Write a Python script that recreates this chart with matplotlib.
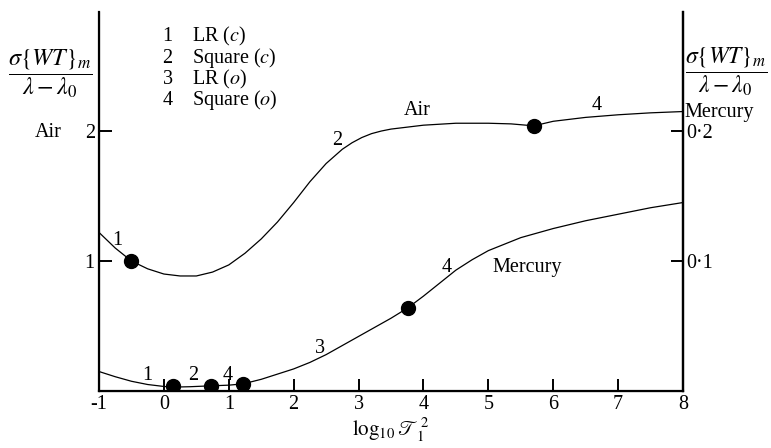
import matplotlib
matplotlib.use("Agg")
import matplotlib.pyplot as plt

plt.rcParams['font.family'] = ['Liberation Serif', 'DejaVu Serif']
plt.rcParams['mathtext.fontset'] = 'stix'

# Air curve (left axis)
air_x = [-1, -0.75, -0.5, -0.25, 0, 0.25, 0.5, 0.75, 1.0, 1.25, 1.5, 1.75, 2.0,
         2.25, 2.5, 2.75, 2.9, 3.05, 3.2, 3.35, 3.5, 3.75, 4.0, 4.5, 5.0, 5.35, 5.7,
         6.0, 6.5, 7.0, 7.5, 8.0]
air_y = [1.22, 1.10, 1.00, 0.94, 0.90, 0.885, 0.885, 0.915, 0.97, 1.06, 1.17, 1.30, 1.45,
         1.61, 1.75, 1.86, 1.91, 1.95, 1.98, 2.00, 2.015, 2.03, 2.045, 2.06, 2.06, 2.055, 2.04,
         2.075, 2.105, 2.125, 2.14, 2.15]
air_pts_x = [-0.5, 5.7]
air_pts_y = [1.00, 2.04]

# Mercury curve (plotted on left scale; right axis = left / 10)
hg_x = [-1, -0.75, -0.5, -0.25, 0, 0.14, 0.4, 0.73, 1.0, 1.22, 1.5, 1.75, 2.0, 2.25,
        2.5, 2.75, 3.0, 3.25, 3.5, 3.76, 4.0, 4.25, 4.5, 4.75, 5.0, 5.5, 6.0, 6.5,
        7.0, 7.5, 8.0]
hg_y = [0.15, 0.11, 0.075, 0.05, 0.035, 0.03, 0.033, 0.04, 0.045, 0.055, 0.09, 0.13,
        0.17, 0.22, 0.28, 0.35, 0.42, 0.49, 0.56, 0.64, 0.73, 0.83, 0.93, 1.01, 1.08,
        1.18, 1.25, 1.31, 1.36, 1.41, 1.45]
hg_pts_x = [0.14, 0.73, 1.22, 3.76]
hg_pts_y = [0.04, 0.04, 0.055, 0.64]

x_ticks = [-1, 0, 1, 2, 3, 4, 5, 6, 7, 8]
left_ticks = [1, 2]
right_ticks = [0.1, 0.2]
right_labels = ['0·1', '0·2']

legend_items = ['1    LR ($c$)', '2    Square ($c$)', '3    LR ($o$)', '4    Square ($o$)']

fig = plt.figure(figsize=(7.71, 4.48), dpi=100)
ax = fig.add_axes([0.1284, 0.1272, 0.7575, 0.8458])
ax.set_xlim(-1, 8)
ax.set_ylim(0, 2.915)

ax.plot(air_x, air_y, color='black', lw=0.9)
ax.plot(hg_x, hg_y, color='black', lw=0.9)
ax.plot(air_pts_x, air_pts_y, 'o', color='black', ms=10)
ax.plot(hg_pts_x, hg_pts_y, 'o', color='black', ms=10)

for s in ['left', 'bottom', 'right']:
    ax.spines[s].set_linewidth(1.6)
ax.spines['top'].set_visible(False)

ax.set_xticks(x_ticks)
ax.set_xticklabels([str(t) for t in x_ticks], fontsize=14.5)
ax.set_yticks(left_ticks)
ax.set_yticklabels([str(t) for t in left_ticks], fontsize=14.5)
ax.tick_params(axis='both', direction='in', length=9, width=1.4, pad=3)

ax2 = ax.twinx()
ax2.set_ylim(0, 0.2915)
ax2.spines['top'].set_visible(False)
ax2.spines['right'].set_linewidth(1.6)
ax2.set_yticks(right_ticks)
ax2.set_yticklabels(right_labels, fontsize=14.5)
ax2.tick_params(axis='y', direction='in', length=9, width=1.4, pad=2)

ax.set_xlabel(r'$\log_{10}\mathscr{T}_1^{\,2}$', fontsize=15, labelpad=2)

frac = r'$\dfrac{\sigma\{WT\}_m}{\lambda-\lambda_0}$'
fig.text(0.066, 0.835, frac, fontsize=17.5, ha='center', va='center')
fig.text(0.942, 0.84, frac, fontsize=17, ha='center', va='center')
fig.text(0.062, 0.705, 'Air', fontsize=14.5, ha='center', va='center')
fig.text(0.888, 0.75, 'Mercury', fontsize=14.5, ha='left', va='center')

for i, t in enumerate(legend_items):
    ax.text(-0.03, 2.73 - i * 0.165, t, fontsize=14.5, ha='left', va='center')

# curve annotations
ax.text(-0.72, 1.16, '1', fontsize=14.5, ha='center', va='center')
ax.text(2.67, 1.93, '2', fontsize=14.5, ha='center', va='center')
ax.text(3.9, 2.16, 'Air', fontsize=14.5, ha='center', va='center')
ax.text(6.67, 2.2, '4', fontsize=14.5, ha='center', va='center')
ax.text(4.36, 0.95, '4', fontsize=14.5, ha='center', va='center')
ax.text(5.6, 0.95, 'Mercury', fontsize=14.5, ha='center', va='center')
ax.text(2.4, 0.33, '3', fontsize=14.5, ha='center', va='center')
ax.text(-0.26, 0.12, '1', fontsize=14.5, ha='center', va='center')
ax.text(0.45, 0.12, '2', fontsize=14.5, ha='center', va='center')
ax.text(0.99, 0.12, '4', fontsize=14.5, ha='center', va='center')

fig.savefig('out.png', dpi=100)
